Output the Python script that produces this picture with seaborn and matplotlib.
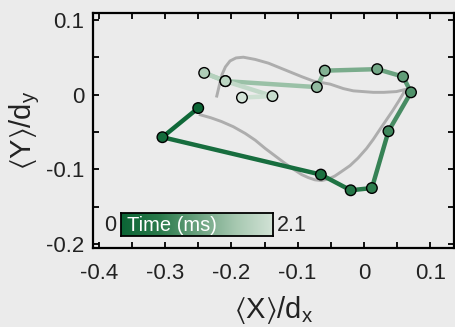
import numpy as np
import pandas as pd
import matplotlib
matplotlib.use('Agg')
import matplotlib.pyplot as plt
import seaborn as sns
from matplotlib.colors import LinearSegmentedColormap
from matplotlib.ticker import MultipleLocator, FuncFormatter

# measured trajectory, in time order (ms)
time_ms = [0, 0.14, 0.28, 0.42, 0.56, 0.7, 0.84, 0.98, 1.12, 1.26, 1.4, 1.54, 1.68, 1.82, 1.96, 2.1]
x_pos = [-0.250, -0.304, -0.065, -0.020, 0.012, 0.037, 0.071, 0.059, 0.020, -0.059,
         -0.071, -0.209, -0.241, -0.209, -0.138, -0.184]
y_pos = [-0.018, -0.057, -0.107, -0.128, -0.125, -0.049, 0.003, 0.024, 0.034, 0.032,
         0.010, 0.018, 0.029, 0.018, -0.002, -0.004]

# reference curve (grey)
curve_x = [-0.247, -0.231, -0.215, -0.197, -0.179, -0.164, -0.149, -0.134, -0.119, -0.106,
           -0.094, -0.084, -0.074, -0.064, -0.054, -0.044, -0.034, -0.021, -0.009, 0.004,
           0.014, 0.023, 0.033, 0.043, 0.053, 0.063, 0.049, 0.030, 0.014, -0.001,
           -0.016, -0.031, -0.051, -0.076, -0.094, -0.119, -0.144, -0.164, -0.182, -0.193,
           -0.202, -0.209, -0.214, -0.218, -0.222]
curve_y = [-0.027, -0.031, -0.036, -0.043, -0.052, -0.061, -0.072, -0.082, -0.092, -0.100,
           -0.107, -0.111, -0.114, -0.115, -0.113, -0.109, -0.103, -0.095, -0.085, -0.072,
           -0.060, -0.048, -0.035, -0.022, -0.008, 0.007, 0.004, 0.003, 0.003, 0.004,
           0.005, 0.008, 0.014, 0.018, 0.024, 0.033, 0.042, 0.047, 0.050, 0.049,
           0.045, 0.037, 0.027, 0.013, -0.002]

traj = pd.DataFrame({'x': x_pos, 'y': y_pos, 't': time_ms})
curve = pd.DataFrame({'x': curve_x, 'y': curve_y})

plt.rcParams['font.family'] = ['Liberation Sans', 'DejaVu Sans']
plt.rcParams['mathtext.fontset'] = 'custom'
plt.rcParams['mathtext.rm'] = 'Liberation Sans'
plt.rcParams['mathtext.default'] = 'regular'
plt.rcParams['axes.unicode_minus'] = False

bg = '#ebebeb'
ink = '#222222'
cmap = LinearSegmentedColormap.from_list(
    'time', ['#0b6535', '#2a7a4b', '#6aa27f', '#a6c8b0', '#d3e3d7'])
tmax = 2.1

fig = plt.figure(figsize=(4.55, 3.27), dpi=100, facecolor=bg)
ax = fig.add_axes([0.204, 0.242, 0.794, 0.718], facecolor=bg)

sns.lineplot(data=curve, x='x', y='y', sort=False, estimator=None, color='#adadad',
             lw=2.1, ax=ax, zorder=1, solid_joinstyle='round')

for i in range(len(traj) - 1):
    tm = (time_ms[i] + time_ms[i + 1]) / 2
    ax.plot(x_pos[i:i + 2], y_pos[i:i + 2], color=cmap(tm / tmax), lw=3.2,
            solid_capstyle='round', zorder=2)

sns.scatterplot(data=traj, x='x', y='y', hue='t', palette=cmap, hue_norm=(0, tmax),
                s=58, edgecolor='black', linewidth=1, legend=False, ax=ax, zorder=3)

ax.set_xlim(-0.409, 0.136)
ax.set_ylim(-0.205, 0.109)
ax.xaxis.set_major_locator(MultipleLocator(0.1))
ax.yaxis.set_major_locator(MultipleLocator(0.1))
ax.xaxis.set_minor_locator(MultipleLocator(0.05))
ax.yaxis.set_minor_locator(MultipleLocator(0.05))
fmt = FuncFormatter(lambda v, p: '%g' % round(v, 2))
ax.xaxis.set_major_formatter(fmt)
ax.yaxis.set_major_formatter(fmt)
ax.tick_params(which='both', direction='in', top=True, right=True, length=4, width=1.3,
               labelsize=16, labelcolor=ink)
ax.tick_params(axis='x', pad=11)
ax.tick_params(axis='y', pad=6)
for s in ax.spines.values():
    s.set_linewidth(1.6)

ax.set_xlabel(r'$\langle X\rangle/d_x$', fontsize=21, labelpad=7, color=ink)
ax.set_ylabel(r'$\langle Y\rangle/d_y$', fontsize=21, labelpad=3, color=ink)

# time colour bar
cax = ax.inset_axes([0.077, 0.051, 0.421, 0.099])
grad = np.linspace(0, 1, 256).reshape(1, -1)
cax.imshow(grad, aspect='auto', cmap=cmap, extent=[0, 1, 0, 1])
cax.set_xticks([])
cax.set_yticks([])
for s in cax.spines.values():
    s.set_linewidth(1.3)
cax.text(0.04, 0.45, 'Time (ms)', color='white', fontsize=14.5, va='center', ha='left',
         transform=cax.transAxes)
cax.text(-0.03, 0.45, '0', fontsize=15.5, va='center', ha='right', color=ink,
         transform=cax.transAxes)
cax.text(1.03, 0.45, '2.1', fontsize=15.5, va='center', ha='left', color=ink,
         transform=cax.transAxes)

fig.savefig('out.png', dpi=100, facecolor=bg)
